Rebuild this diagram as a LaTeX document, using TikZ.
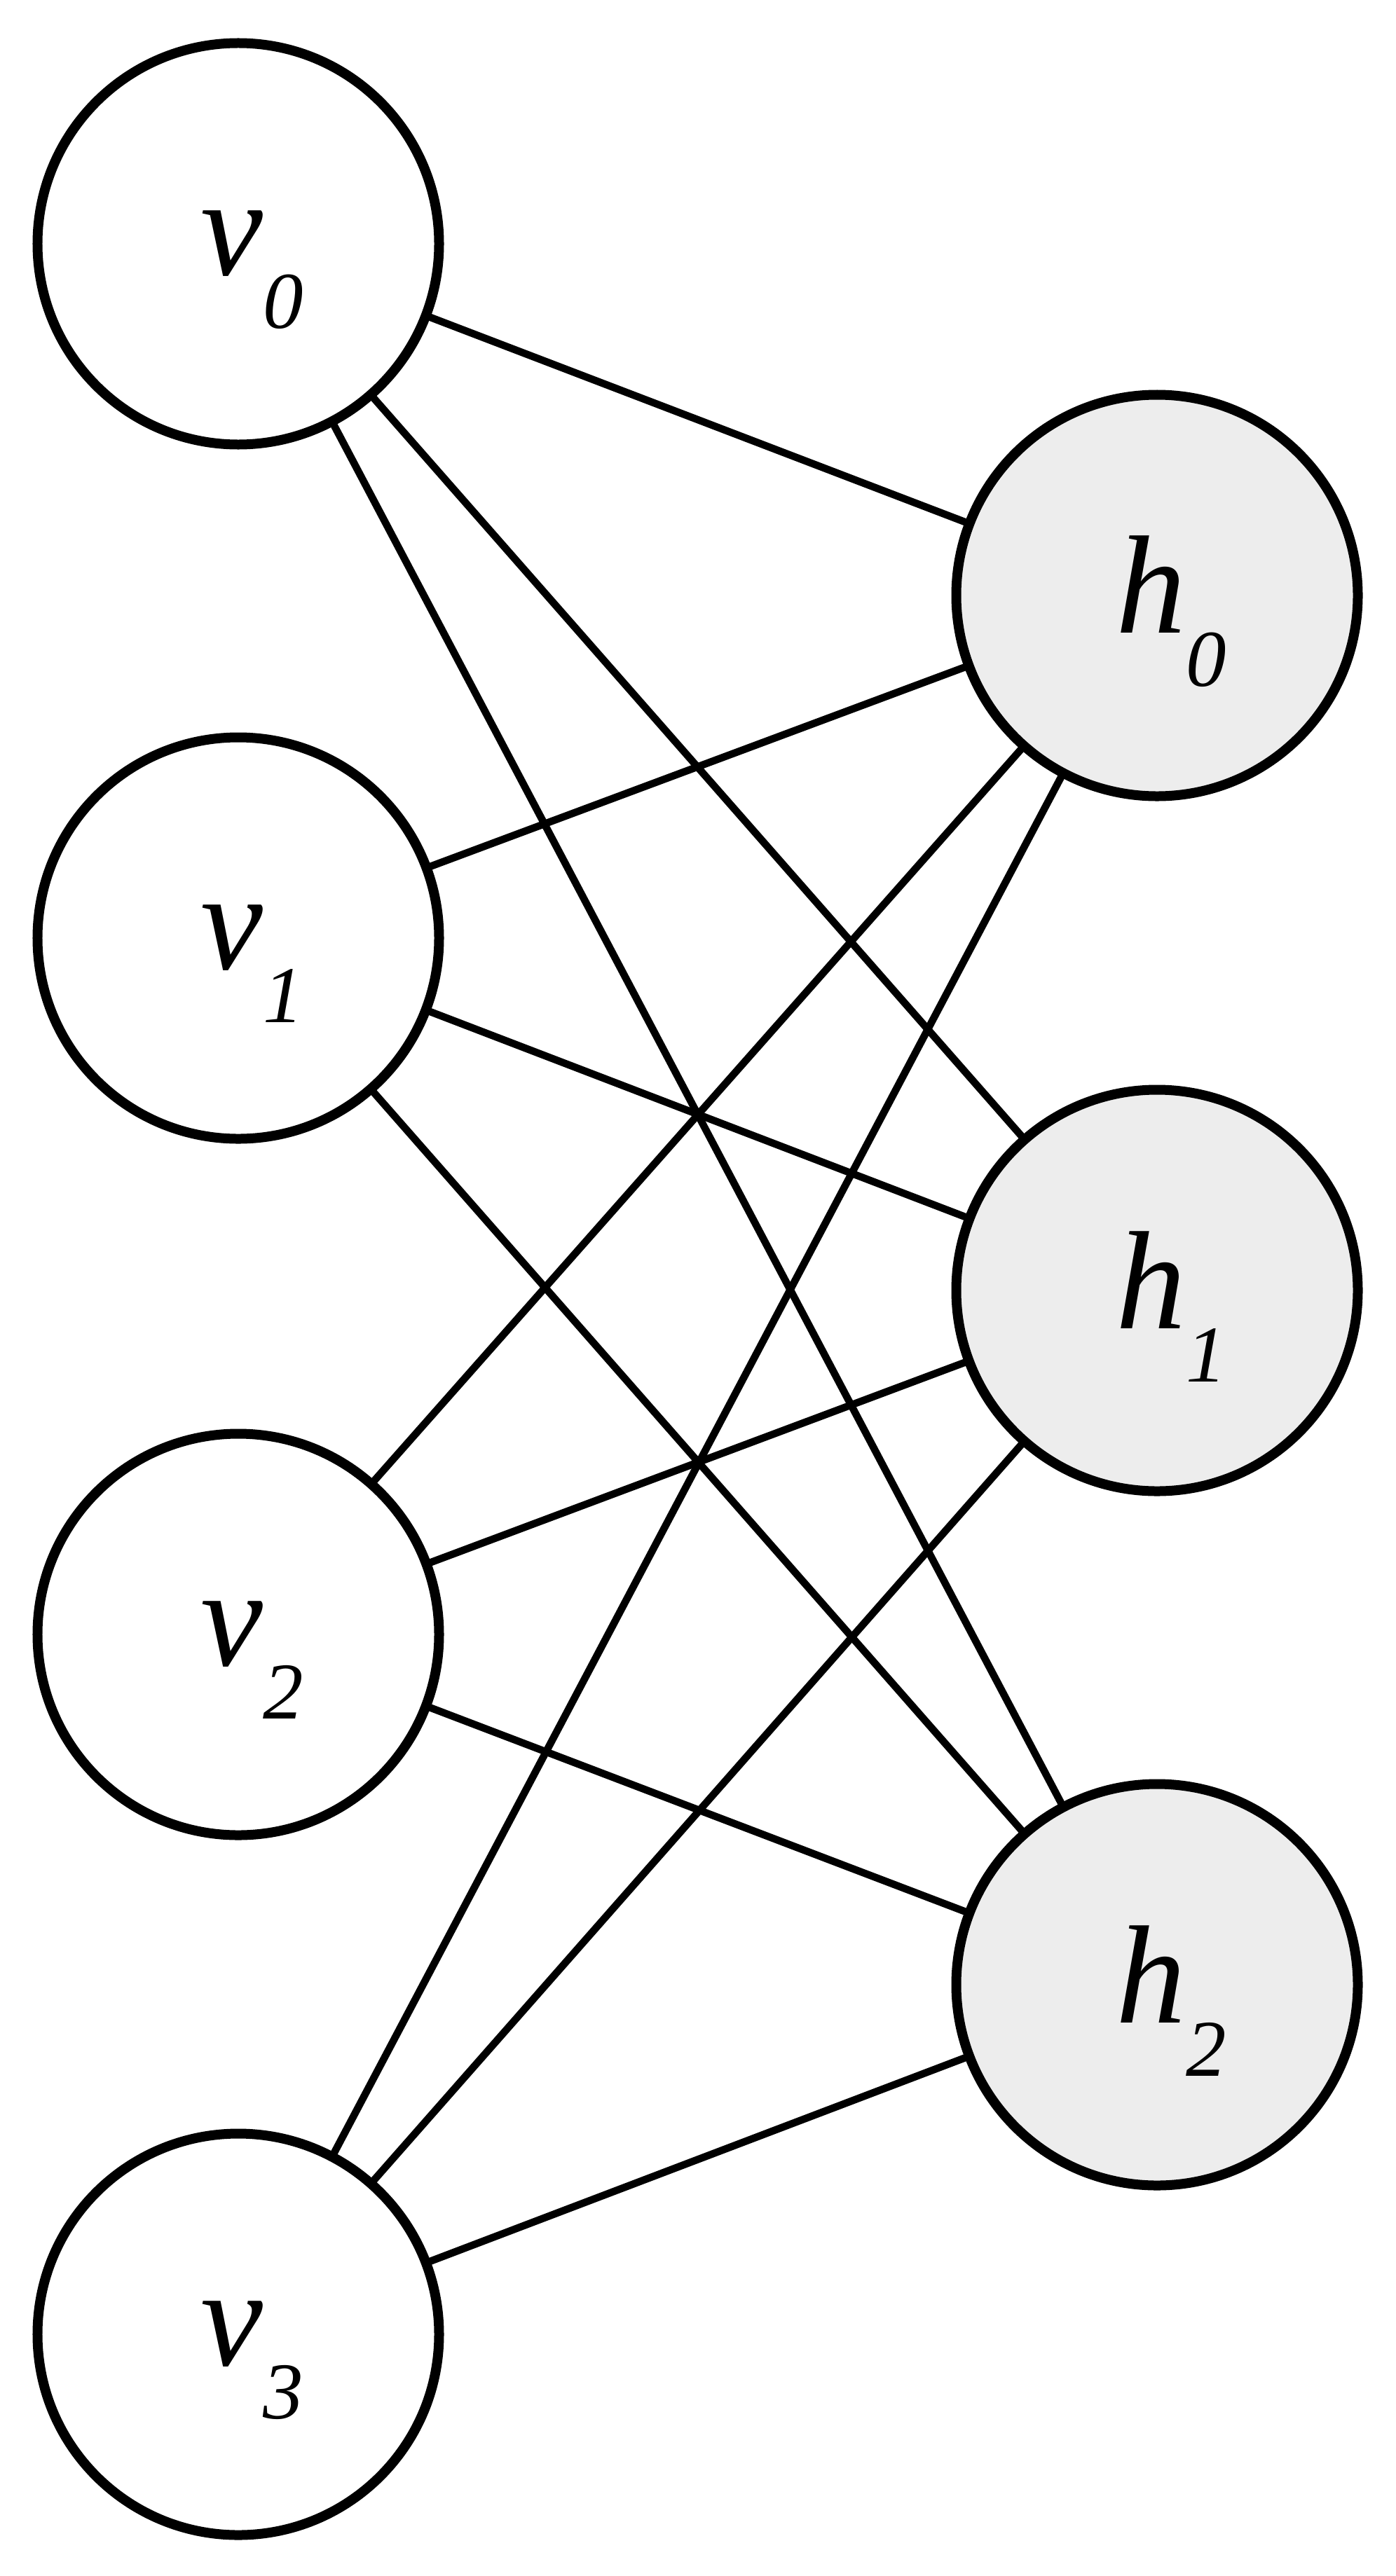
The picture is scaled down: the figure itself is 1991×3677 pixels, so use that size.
\documentclass[tikz,border=0pt]{standalone}
\usepackage{fontspec}
\setmainfont{Liberation Serif}
\definecolor{hfill}{RGB}{237,237,237}
\newcommand\unitlab[2]{{\fontsize{40}{40}\selectfont\itshape #1}\raisebox{-15.2pt}{\fontsize{23}{23}\selectfont\itshape #2}}
\begin{document}
\begin{tikzpicture}[x=0.2pt,y=-0.2pt,
  unit/.style={circle,draw=black,line width=2.8pt,minimum size=114.6pt,inner sep=0pt,outer sep=0pt},
  vis/.style={unit,fill=white},
  hid/.style={unit,fill=hfill},
  lbl/.style={inner sep=0pt},
  conn/.style={line width=2.1pt}]
\useasboundingbox (0,0) rectangle (1991,3677);
\node[vis] (v0) at (340,348) {};
\node[vis] (v1) at (340,1339) {};
\node[vis] (v2) at (340,2333) {};
\node[vis] (v3) at (340,3332) {};
\node[hid] (h0) at (1651,850) {};
\node[hid] (h1) at (1651,1842) {};
\node[hid] (h2) at (1651,2833) {};
\foreach \i in {0,1,2,3} {
  \node[lbl,shift={(20,37)}] (v\i t) at (v\i) {\unitlab{v}{\i}};
}
\foreach \i in {0,1,2} {
  \node[lbl,shift={(20,23)}] (h\i t) at (h\i) {\unitlab{h}{\i}};
}
\foreach \i in {0,1,2,3} {
  \foreach \j in {0,1,2} {
    \draw[conn] (v\i) -- (h\j);
  }
}
\end{tikzpicture}
\end{document}
